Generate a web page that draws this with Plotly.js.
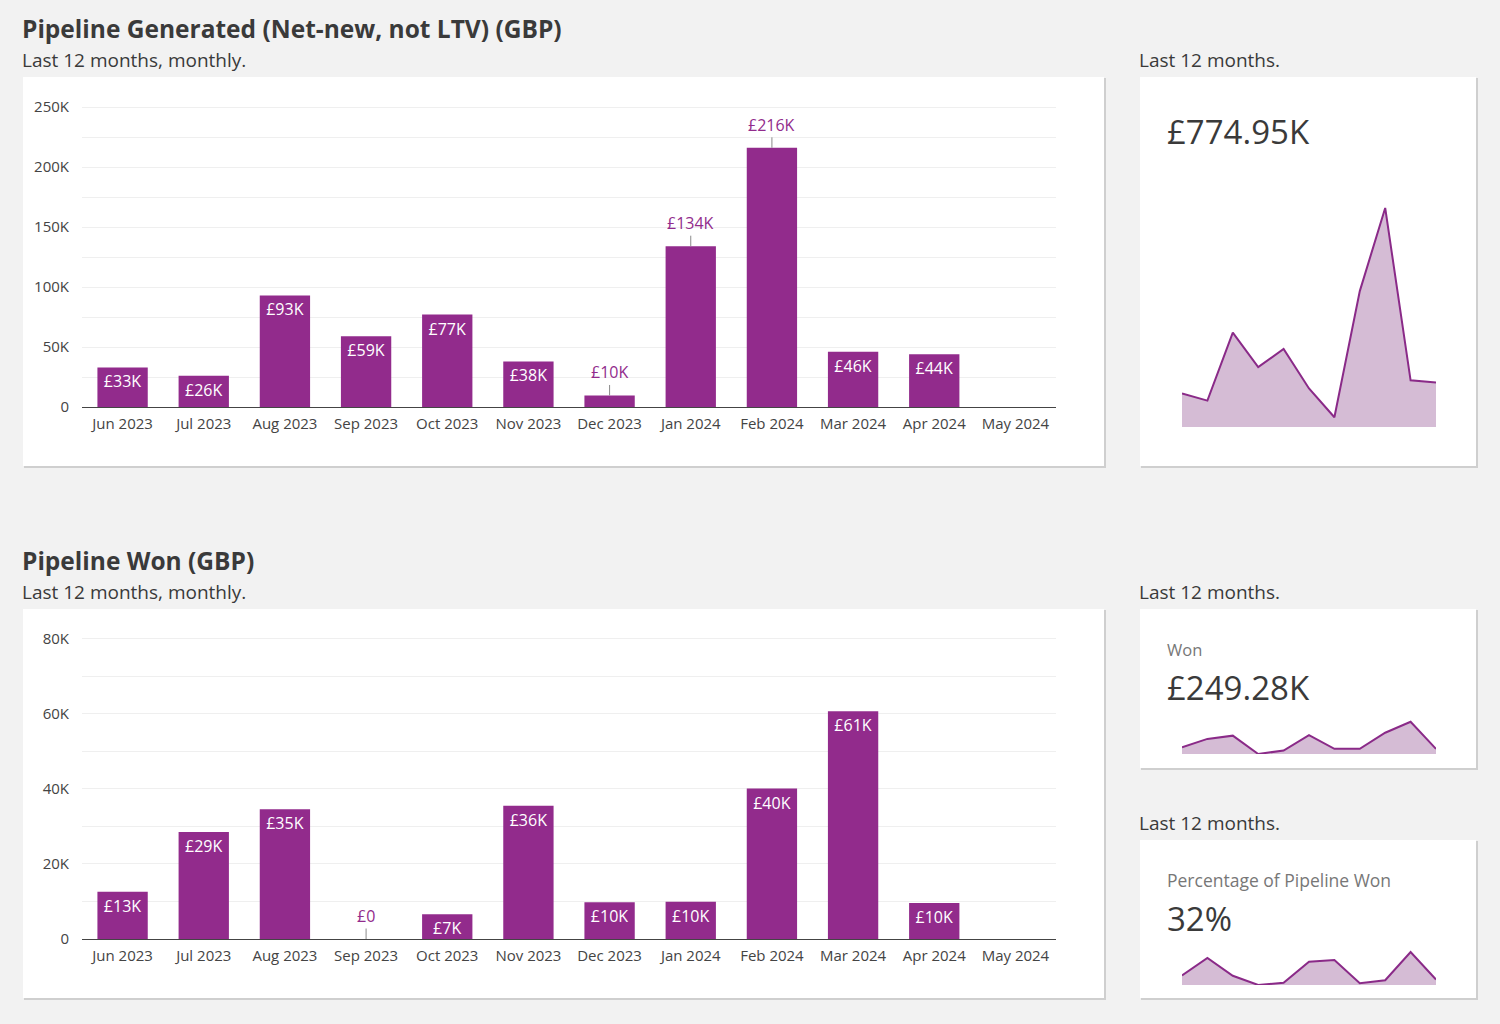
<!DOCTYPE html>
<html>
<head>
<meta charset="utf-8">
<script src="https://cdn.plot.ly/plotly-3.0.1.min.js"></script>
<style>
  html, body { margin: 0; padding: 0; background: #f2f2f2; }
  #chart { width: 1500px; height: 1024px; }
</style>
</head>
<body>
<div id="chart"></div>
<script>
// ---------- data ----------
const months = ['Jun 2023','Jul 2023','Aug 2023','Sep 2023','Oct 2023','Nov 2023',
                'Dec 2023','Jan 2024','Feb 2024','Mar 2024','Apr 2024','May 2024'];
const generated = [33000, 26000, 93000, 59000, 77000, 38000, 9600, 134000, 216000, 46000, 44000, null];
const won = [12600, 28500, 34600, 0, 6600, 35500, 9800, 9900, 40100, 60700, 9600, null];
const pctWon = [38, 108, 37, 0, 9, 93, 100, 7, 19, 132, 22];
const genTickVals = [0, 25000, 50000, 75000, 100000, 125000, 150000, 175000, 200000, 225000, 250000];
const genTickText = ['0', '', '50K', '', '100K', '', '150K', '', '200K', '', '250K'];
const wonTickVals = [0, 10000, 20000, 30000, 40000, 50000, 60000, 70000, 80000];
const wonTickText = ['0', '', '20K', '', '40K', '', '60K', '', '80K'];
const genOutside = ['Dec 2023', 'Jan 2024', 'Feb 2024'];
const wonOutside = ['Sep 2023'];
const totalGenerated = '£774.95K';
const totalWon = '£249.28K';
const totalPct = '32%';

// ---------- helpers ----------
const W = 1500, H = 1024;
const px = x => x / W;
const py = y => 1 - y / H;
const FONT = 'Open Sans, sans-serif';
const PURPLE = '#922b8c';
const DARK = '#3a3a3a';
const fmtK = v => v === 0 ? '£0' : '£' + Math.round(v / 1000) + 'K';

function barTrace(vals, outside, xa, ya) {
  return {
    type: 'bar', x: months, y: vals, xaxis: xa, yaxis: ya,
    marker: { color: PURPLE },
    text: vals.map((v, i) => (v === null || outside.includes(months[i])) ? '' : fmtK(v)),
    textposition: 'inside', insidetextanchor: 'end',
    textfont: { color: '#ffffff', size: 16, family: FONT },
    constraintext: 'none', hoverinfo: 'none', cliponaxis: false
  };
}
function outsideAnn(vals, outside, xr, yr) {
  const out = [];
  vals.forEach((v, i) => {
    if (v !== null && outside.includes(months[i])) {
      out.push({ xref: xr, yref: yr, x: months[i], y: v, text: fmtK(v),
        showarrow: true, arrowhead: 0, arrowwidth: 1, arrowcolor: '#8a8a8a',
        ax: 0, ay: -23, font: { color: PURPLE, size: 16, family: FONT } });
    }
  });
  return out;
}
const sparkMonths = months.filter((m, i) => generated[i] !== null);
function sparkTrace(vals, xa, ya) {
  return { type: 'scatter', mode: 'lines', x: sparkMonths, y: vals, xaxis: xa, yaxis: ya,
    fill: 'tozeroy', fillcolor: '#d5bcd5', line: { color: '#8a2a88', width: 2 },
    hoverinfo: 'none', cliponaxis: false };
}

const traces = [
  barTrace(generated, genOutside, 'x', 'y'),
  barTrace(won, wonOutside, 'x2', 'y2'),
  sparkTrace(generated.filter(v => v !== null), 'x3', 'y3'),
  sparkTrace(won.filter(v => v !== null), 'x4', 'y4'),
  sparkTrace(pctWon, 'x5', 'y5')
];

const tickFont = { size: 15, color: '#444', family: FONT };
const barX = dom => ({ domain: dom, type: 'category', categoryorder: 'array', categoryarray: months,
  range: [-0.5, 11.5], showline: true, linecolor: '#444', linewidth: 1, ticks: '',
  ticklabelstandoff: 3,
  showgrid: false, zeroline: false, tickfont: tickFont, fixedrange: true });
const barY = (dom, rng, tv, tt) => ({ domain: dom, range: rng, tickmode: 'array', tickvals: tv, ticktext: tt,
  showgrid: true, gridcolor: '#efefef', gridwidth: 1, zeroline: false, showline: false, ticks: '',
  ticklabelstandoff: 12, tickfont: tickFont, fixedrange: true });
const sparkX = (dom) => ({ domain: dom, type: 'category', range: [0, 10], visible: false, fixedrange: true });
const sparkY = (dom, rng) => ({ domain: dom, range: rng, visible: false, fixedrange: true });

// cards
function card(x0, y0, x1, y1) {
  return [
    { type: 'rect', xref: 'paper', yref: 'paper', layer: 'below',
      x0: px(x0 + 1), x1: px(x1 + 2), y0: py(y1 + 2), y1: py(y0 + 1),
      fillcolor: '#cfcfcf', line: { width: 0 } },
    { type: 'rect', xref: 'paper', yref: 'paper', layer: 'below',
      x0: px(x0), x1: px(x1), y0: py(y1), y1: py(y0),
      fillcolor: '#ffffff', line: { width: 0 } }
  ];
}
const shapes = [].concat(
  card(23, 77, 1104, 466),
  card(1140, 77, 1476, 466),
  card(23, 609, 1104, 998),
  card(1140, 609, 1476, 768),
  card(1140, 840, 1476, 998)
);

function txt(text, x, y, size, color, bold) {
  return { xref: 'paper', yref: 'paper', x: px(x), y: py(y), xanchor: 'left', yanchor: 'middle',
    text: bold ? '<b>' + text + '</b>' : text, showarrow: false,
    font: { size: size, color: color, family: FONT } };
}
const annotations = [
  txt('Pipeline Generated (Net-new, not LTV) (GBP)', 20, 28, 24.5, DARK, true),
  txt('Last 12 months, monthly.', 20, 60, 19, DARK, false),
  txt('Last 12 months.', 1137, 60, 19, DARK, false),
  txt(totalGenerated, 1165, 131, 33, DARK, false),
  txt('Pipeline Won (GBP)', 20, 560, 24.5, DARK, true),
  txt('Last 12 months, monthly.', 20, 592, 19, DARK, false),
  txt('Last 12 months.', 1137, 592, 19, DARK, false),
  txt('Won', 1165, 649, 16.5, '#777', false),
  txt(totalWon, 1165, 687, 33, DARK, false),
  txt('Last 12 months.', 1137, 823, 19, DARK, false),
  txt('Percentage of Pipeline Won', 1165, 880, 17.5, '#777', false),
  txt(totalPct, 1165, 918, 33, DARK, false)
].concat(outsideAnn(generated, genOutside, 'x', 'y'), outsideAnn(won, wonOutside, 'x2', 'y2'));

const layout = {
  width: W, height: H, margin: { l: 0, r: 0, t: 0, b: 0 },
  paper_bgcolor: '#f2f2f2', plot_bgcolor: 'rgba(0,0,0,0)',
  showlegend: false, bargap: 0.38, hovermode: false,
  font: { family: FONT },
  xaxis: barX([px(82), px(1056)]),
  yaxis: barY([py(407), py(105.8)], [0, 251000], genTickVals, genTickText),
  xaxis2: Object.assign(barX([px(82), px(1056)]), { anchor: 'y2' }),
  yaxis2: Object.assign(barY([py(939), py(637.1)], [0, 80500], wonTickVals, wonTickText), { anchor: 'x2' }),
  xaxis3: Object.assign(sparkX([px(1182), px(1436)]), { anchor: 'y3' }),
  yaxis3: Object.assign(sparkY([py(427), py(177)], [0, 246500]), { anchor: 'x3' }),
  xaxis4: Object.assign(sparkX([px(1182), px(1436)]), { anchor: 'y4' }),
  yaxis4: Object.assign(sparkY([py(754), py(704)], [0, 94300]), { anchor: 'x4' }),
  xaxis5: Object.assign(sparkX([px(1182), px(1436)]), { anchor: 'y5' }),
  yaxis5: Object.assign(sparkY([py(985), py(945)], [0, 160]), { anchor: 'x5' }),
  shapes: shapes, annotations: annotations
};
layout.yaxis.anchor = 'x';
layout.xaxis.anchor = 'y';

Plotly.newPlot('chart', traces, layout, { displayModeBar: false, staticPlot: true });
</script>
</body>
</html>
